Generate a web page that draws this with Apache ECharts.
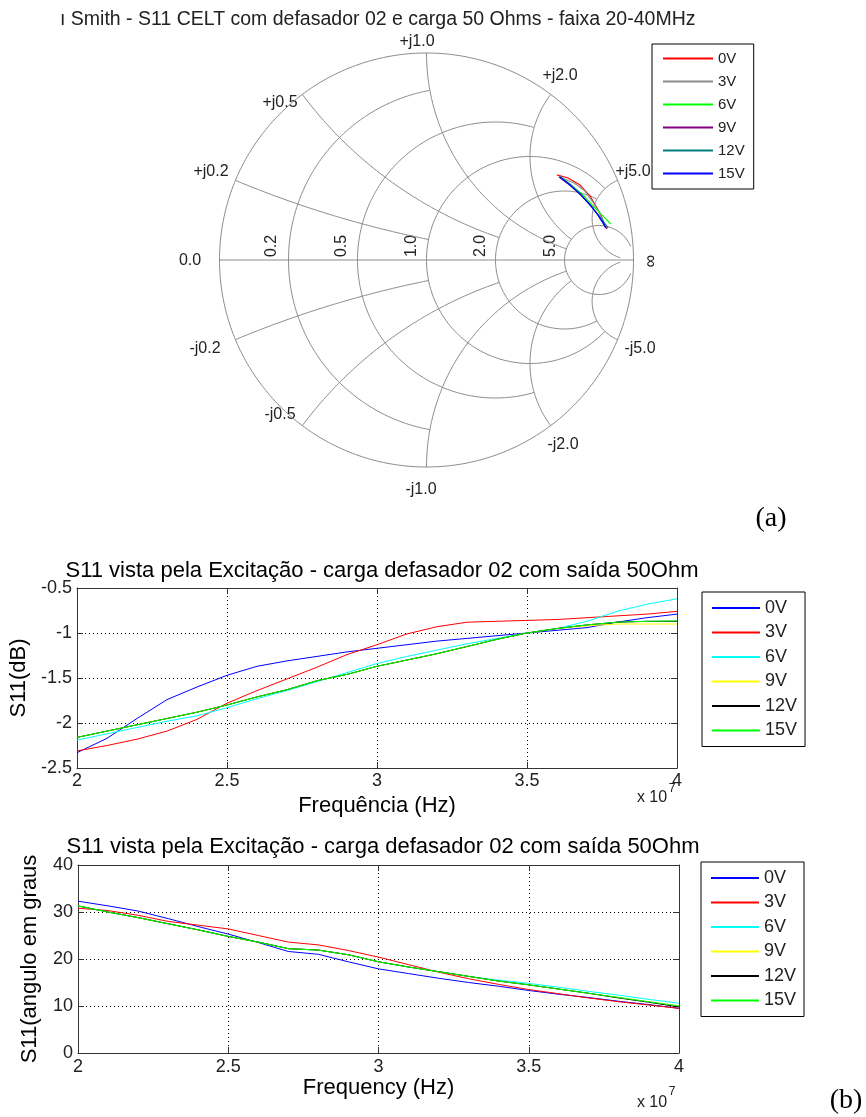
<!DOCTYPE html>
<html>
<head>
<meta charset="utf-8">
<script src="https://cdn.jsdelivr.net/npm/echarts@6/dist/echarts.min.js"></script>
<style>
  html, body { margin: 0; background: #fff; }
  #main { width: 866px; height: 1117px; }
</style>
</head>
<body>
<div id="main"></div>
<script>
// ---- data ----
const voltages = ["0V", "3V", "6V", "9V", "12V", "15V"];

// smith chart: reflection coefficient (re, im) along 20-40 MHz
const smith0V = [[0.630, 0.411], [0.684, 0.396], [0.742, 0.362], [0.790, 0.309], [0.824, 0.251], [0.848, 0.203], [0.862, 0.159]];
const smith3V = [[0.655, 0.396], [0.713, 0.372], [0.766, 0.333], [0.804, 0.280], [0.838, 0.227], [0.862, 0.169]];
const smith6V = [[0.640, 0.406], [0.693, 0.367], [0.751, 0.319], [0.800, 0.266], [0.848, 0.217], [0.891, 0.174]];
const smith9V = [[0.640, 0.401], [0.698, 0.357], [0.751, 0.309], [0.800, 0.256], [0.838, 0.203], [0.872, 0.150]];
const smith12V = [[0.645, 0.401], [0.698, 0.362], [0.746, 0.314], [0.795, 0.261], [0.838, 0.208], [0.877, 0.155]];
const smith15V = [[0.645, 0.401], [0.693, 0.362], [0.742, 0.319], [0.790, 0.266], [0.829, 0.217], [0.867, 0.155]];

// smith grid: values and where each circle / arc stops
const gridValues = [0.2, 0.5, 1.0, 2.0, 5.0];
const gridLimits = [1, 2, 5, 5, 30];

// frequency in units of 1e7 Hz
const freq = [2.0, 2.1, 2.2, 2.3, 2.4, 2.5, 2.6, 2.7, 2.8, 2.9, 3.0, 3.1, 3.2, 3.3, 3.4, 3.5, 3.6, 3.7, 3.8, 3.9, 4.0];

// S11 magnitude (dB)
const db0V  = [-2.33, -2.17, -1.95, -1.74, -1.60, -1.47, -1.37, -1.31, -1.26, -1.21, -1.17, -1.13, -1.09, -1.06, -1.03, -1.00, -0.97, -0.94, -0.88, -0.83, -0.79];
const db3V  = [-2.31, -2.25, -2.18, -2.09, -1.96, -1.78, -1.64, -1.51, -1.38, -1.24, -1.13, -1.01, -0.93, -0.88, -0.87, -0.86, -0.85, -0.83, -0.81, -0.79, -0.76];
const db6V  = [-2.19, -2.12, -2.05, -1.98, -1.92, -1.83, -1.73, -1.64, -1.54, -1.44, -1.34, -1.26, -1.19, -1.12, -1.06, -1.00, -0.95, -0.87, -0.76, -0.68, -0.62];
const db9V  = [-2.16, -2.09, -2.02, -1.95, -1.88, -1.80, -1.71, -1.63, -1.53, -1.46, -1.37, -1.30, -1.23, -1.15, -1.07, -1.00, -0.95, -0.92, -0.90, -0.90, -0.90];
const db12V = [-2.16, -2.09, -2.02, -1.95, -1.88, -1.80, -1.71, -1.63, -1.53, -1.46, -1.37, -1.30, -1.23, -1.15, -1.07, -1.00, -0.95, -0.91, -0.88, -0.87, -0.87];
const db15V = [-2.16, -2.09, -2.02, -1.95, -1.88, -1.80, -1.71, -1.63, -1.53, -1.46, -1.37, -1.30, -1.23, -1.15, -1.07, -1.00, -0.95, -0.91, -0.88, -0.87, -0.865];

// S11 angle (degrees)
const ang0V  = [32.3, 31.3, 30.2, 28.6, 26.9, 25.3, 23.5, 21.6, 21.0, 19.4, 17.9, 16.9, 15.9, 15.0, 14.2, 13.3, 12.5, 11.8, 11.0, 10.3, 9.5];
const ang3V  = [30.8, 30.3, 29.3, 28.0, 27.2, 26.4, 25.0, 23.6, 23.0, 21.8, 20.4, 18.8, 17.2, 15.8, 14.6, 13.5, 12.6, 11.7, 10.9, 10.2, 9.5];
const ang6V  = [31.3, 30.0, 28.8, 27.5, 26.2, 24.8, 23.6, 22.2, 21.9, 20.9, 19.4, 18.3, 17.3, 16.3, 15.5, 14.8, 14.0, 13.1, 12.3, 11.4, 10.6];
const ang9V  = [31.3, 30.0, 28.8, 27.5, 26.2, 24.8, 23.6, 22.2, 21.9, 20.9, 19.4, 18.3, 17.3, 16.3, 15.3, 14.5, 13.6, 12.7, 11.8, 10.9, 10.0];
const ang12V = [31.3, 30.0, 28.8, 27.5, 26.2, 24.8, 23.6, 22.2, 21.9, 20.9, 19.4, 18.3, 17.3, 16.3, 15.3, 14.5, 13.6, 12.7, 11.7, 10.8, 9.8];
const ang15V = [31.3, 30.0, 28.8, 27.5, 26.2, 24.8, 23.6, 22.2, 21.9, 20.9, 19.4, 18.3, 17.3, 16.3, 15.3, 14.5, 13.6, 12.7, 11.8, 10.9, 10.0];

const smithColors = ["#ff0000", "#8c8c8c", "#00ff00", "#800080", "#008080", "#0000ff"];
const lineColors = ["#0000ff", "#ff0000", "#00ffff", "#ffff00", "#000000", "#00ff00"];

const FONT = "Liberation Sans, Arial, sans-serif";

// ---- smith grid geometry ----
function gamma(r, x) {
  const d = (r + 1) * (r + 1) + x * x;
  return [(r * r - 1 + x * x) / d, (2 * x) / d];
}

const smithGrid = [];
const outer = [];
for (let a = 0; a <= 360; a++) {
  outer.push([Math.cos(a * Math.PI / 180), Math.sin(a * Math.PI / 180)]);
}
smithGrid.push(outer);
smithGrid.push([[-1, 0], [1, 0]]);
gridValues.forEach((v, k) => {
  const lim = gridLimits[k];
  const circ = [];
  for (let i = 0; i <= 600; i++) circ.push(gamma(v, -lim + 2 * lim * i / 600));
  smithGrid.push(circ);
  [1, -1].forEach((s) => {
    const arc = [];
    for (let i = 0; i <= 600; i++) arc.push(gamma(lim * i / 600, s * v));
    smithGrid.push(arc);
  });
});

const chart = echarts.init(document.getElementById("main"));

const series = [];
smithGrid.forEach((pts) => {
  series.push({
    type: "line", xAxisIndex: 0, yAxisIndex: 0, data: pts, symbol: "none",
    silent: true, clip: false, lineStyle: { color: "#8c8c8c", width: 1 }
  });
});

const smithData = [smith0V, smith3V, smith6V, smith9V, smith12V, smith15V];
smithData.forEach((d, i) => {
  series.push({
    name: "s-" + voltages[i], type: "line", xAxisIndex: 0, yAxisIndex: 0,
    data: d, symbol: "none", clip: false,
    lineStyle: { color: smithColors[i], width: 1.2 }, itemStyle: { color: smithColors[i] }
  });
});

const dbData = [db0V, db3V, db6V, db9V, db12V, db15V];
dbData.forEach((d, i) => {
  series.push({
    name: "d-" + voltages[i], type: "line", xAxisIndex: 1, yAxisIndex: 1,
    data: freq.map((f, j) => [f, d[j]]), symbol: "none",
    lineStyle: { color: lineColors[i], width: 1 }, itemStyle: { color: lineColors[i] }
  });
});

const angData = [ang0V, ang3V, ang6V, ang9V, ang12V, ang15V];
angData.forEach((d, i) => {
  series.push({
    name: "a-" + voltages[i], type: "line", xAxisIndex: 3, yAxisIndex: 3,
    data: freq.map((f, j) => [f, d[j]]), symbol: "none",
    lineStyle: { color: lineColors[i], width: 1 }, itemStyle: { color: lineColors[i] }
  });
});

function boxAxis(extra) {
  return Object.assign({
    type: "value",
    axisLine: { show: true, onZero: false, lineStyle: { color: "#333", width: 1 } },
    axisTick: { show: true, inside: true, length: 6, lineStyle: { color: "#333" } },
    axisLabel: { show: false },
    splitLine: { show: false }
  }, extra);
}
const labelStyle = { show: true, color: "#222", fontSize: 18, fontFamily: FONT };
const gridSplit = { show: true, lineStyle: { type: [1, 3], color: "#000", width: 1 } };
const nameStyle = { color: "#000", fontSize: 22, fontFamily: FONT };

function legendFor(prefix, left, top, o) {
  return {
    data: voltages.map((v) => prefix + v),
    left: left, top: top, orient: "vertical",
    itemWidth: o.w, itemHeight: o.h, itemGap: o.gap,
    padding: o.pad,
    borderColor: "#000", borderWidth: 1, backgroundColor: "#fff",
    selectedMode: false,
    itemStyle: { opacity: 0 },
    formatter: (n) => n.slice(2),
    textStyle: { fontSize: o.fs, fontFamily: FONT, color: "#222" }
  };
}

const titleText = "S11 vista pela Excitação - carga defasador 02 com saída 50Ohm";
const option = {
  animation: false,
  backgroundColor: "#fff",
  title: [
    { text: titleText, left: 377, top: 555, textAlign: "center",
      textStyle: { fontSize: 22, fontWeight: "normal", color: "#000", fontFamily: FONT } },
    { text: titleText, left: 378, top: 831, textAlign: "center",
      textStyle: { fontSize: 22, fontWeight: "normal", color: "#000", fontFamily: FONT } }
  ],
  legend: [
    legendFor("s-", 652, 44, { w: 50, h: 14, gap: 8, pad: [7, 9, 8, 10], fs: 15 }),
    legendFor("d-", 702, 592, { w: 48, h: 17, gap: 6.5, pad: [7, 8, 7, 9], fs: 18 }),
    legendFor("a-", 701, 862, { w: 48, h: 17, gap: 6.5, pad: [7, 8, 7, 9], fs: 18 })
  ],
  grid: [
    { left: 219.5, top: 53, width: 414, height: 414 },
    { left: 77, top: 588, width: 600, height: 180 },
    { left: 78, top: 865, width: 601, height: 188 }
  ],
  xAxis: [
    { type: "value", gridIndex: 0, min: -1, max: 1, show: false },
    boxAxis({ gridIndex: 1, position: "bottom", min: 2, max: 4, interval: 0.5,
      axisLabel: Object.assign({ margin: 4 }, labelStyle), splitLine: gridSplit,
      name: "Frequência (Hz)", nameLocation: "middle", nameGap: 27, nameTextStyle: nameStyle }),
    boxAxis({ gridIndex: 1, position: "top", min: 2, max: 4, interval: 0.5 }),
    boxAxis({ gridIndex: 2, position: "bottom", min: 2, max: 4, interval: 0.5,
      axisLabel: Object.assign({ margin: 5 }, labelStyle), splitLine: gridSplit,
      name: "Frequency (Hz)", nameLocation: "middle", nameGap: 22, nameTextStyle: nameStyle }),
    boxAxis({ gridIndex: 2, position: "top", min: 2, max: 4, interval: 0.5 })
  ],
  yAxis: [
    { type: "value", gridIndex: 0, min: -1, max: 1, show: false },
    boxAxis({ gridIndex: 1, position: "left", min: -2.5, max: -0.5, interval: 0.5,
      axisLabel: Object.assign({ margin: 5 }, labelStyle), splitLine: gridSplit,
      name: "S11(dB)", nameLocation: "middle", nameGap: 40, nameTextStyle: nameStyle }),
    boxAxis({ gridIndex: 1, position: "right", min: -2.5, max: -0.5, interval: 0.5 }),
    boxAxis({ gridIndex: 2, position: "left", min: 0, max: 40, interval: 10,
      axisLabel: Object.assign({ margin: 5 }, labelStyle), splitLine: gridSplit,
      name: "S11(angulo em graus", nameLocation: "middle", nameGap: 37, nameTextStyle: nameStyle }),
    boxAxis({ gridIndex: 2, position: "right", min: 0, max: 40, interval: 10 })
  ],
  graphic: [],
  series: series
};

// text annotations
const g = option.graphic;
function txt(t, x, y, font, extra) {
  g.push(Object.assign({
    type: "text", x: x, y: y, silent: true,
    style: { text: t, font: font, fill: "#222", textAlign: "center", textVerticalAlign: "middle" }
  }, extra || {}));
}
const sans = (s) => s + "px " + FONT;
const serif = (s) => s + "px Liberation Serif, Times New Roman, serif";

txt("ı Smith - S11 CELT com defasador 02 e carga 50 Ohms - faixa 20-40MHz", 60, 20, sans(19.5));
g[g.length - 1].style.textAlign = "left";

const smithLabels = [
  ["+j1.0", 417, 42], ["+j0.5", 280, 103], ["+j2.0", 560, 76], ["+j0.2", 211, 172], ["+j5.0", 633, 172],
  ["0.0", 190, 261], ["-j0.2", 205, 349], ["-j0.5", 280, 415], ["-j1.0", 421, 490], ["-j2.0", 563, 445], ["-j5.0", 640, 349]
];
smithLabels.forEach((l) => txt(l[0], l[1], l[2], sans(16)));
const rLabels = [["0.2", 272, 246], ["0.5", 342, 246], ["1.0", 412, 246], ["2.0", 481, 246], ["5.0", 551, 246]];
rLabels.forEach((l) => txt(l[0], l[1], l[2], sans(16), { rotation: Math.PI / 2 }));
txt("∞", 651, 261, sans(18), { rotation: Math.PI / 2 });

// exponent markers
[[798, 789], [1103, 1092]].forEach((p) => {
  txt("x 10", 652, p[0], sans(16));
  txt("7", 672, p[1], sans(12));
});

// panel tags
txt("(a)", 771, 519, serif(28));
g[g.length - 1].style.fill = "#000";
txt("(b)", 846, 1101, serif(28));
g[g.length - 1].style.fill = "#000";

chart.setOption(option);
</script>
</body>
</html>
